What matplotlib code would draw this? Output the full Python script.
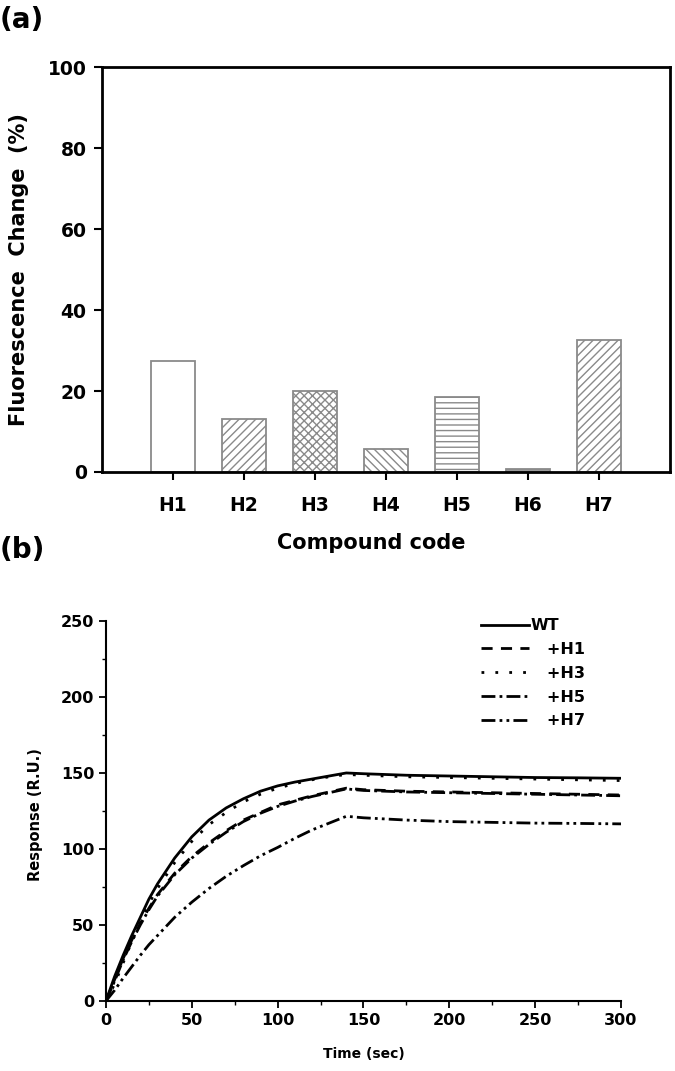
import numpy as np
import matplotlib
matplotlib.use("Agg")
import matplotlib.pyplot as plt

plt.rcParams['font.family'] = ['DejaVu Sans']
plt.rcParams['font.weight'] = 'bold'
plt.rcParams['hatch.linewidth'] = 1.0

# panel (a)
compounds = ["H1", "H2", "H3", "H4", "H5", "H6", "H7"]
fluo_change = [27.3, 13.0, 20.0, 5.8, 18.5, 0.7, 32.5]
hatches = [None, "////", "xxxx", "\\\\\\\\", "---", None, "////"]
fills = ["white", "white", "white", "white", "white", "#9a9a9a", "white"]

# panel (b)
time = [0, 5, 10, 15, 20, 25, 30, 40, 50, 60, 70, 80, 90, 100, 110, 120, 130, 140,
        150, 175, 200, 225, 250, 275, 300]
wt = [0, 16, 30, 43, 55, 67, 77, 94, 108, 119, 127, 133, 138, 141.5, 144, 146, 148, 150,
      149.5, 148.5, 148, 147.5, 147, 146.8, 146.5]
h1 = [0, 14, 28, 40, 51, 61, 70, 84, 95, 104, 112, 119, 124, 129, 132, 135, 137.5, 140,
      139, 138, 137.5, 137, 136.5, 136, 135.5]
h3 = [0, 11, 25, 39, 52, 64, 74, 91, 105, 116, 124, 131, 136, 140, 143, 145.5, 147.5, 149,
      148.5, 147.5, 147, 146.5, 146, 145.5, 145]
h5 = [0, 13, 27, 39, 50, 60, 69, 83, 94, 103, 111, 118, 123.5, 128, 131.5, 134.5, 137, 139.5,
      138.5, 137.5, 137, 136.5, 136, 135.5, 135]
h7 = [0, 7, 15, 22.5, 30, 37, 43, 55, 65, 74, 82, 89, 95.5, 101, 107, 112.5, 117, 121.5,
      120.5, 119, 118, 117.5, 117, 116.8, 116.5]

fig = plt.figure(figsize=(6.75, 10.71), dpi=100)

# ---- (a) bar chart
ax1 = fig.add_axes([0.151, 0.5593, 0.841, 0.378])
x = np.arange(1, len(compounds) + 1)
for xi, v, h, fc in zip(x, fluo_change, hatches, fills):
    ax1.bar(xi, v, width=0.62, color=fc, edgecolor="#8a8a8a", linewidth=1.3, hatch=h)
ax1.set_xlim(0, 8)
ax1.set_ylim(0, 100)
ax1.set_xticks(x)
ax1.set_xticklabels(compounds)
ax1.set_yticks(range(0, 101, 20))
for s in ax1.spines.values():
    s.set_linewidth(2)
ax1.tick_params(axis="y", direction="out", length=6, width=1.5, labelsize=13.5, pad=5)
ax1.tick_params(axis="x", direction="out", length=6, width=1.5, labelsize=13.5, pad=11)
ax1.set_ylabel("Fluorescence  Change  (%)", fontsize=15, fontweight="bold")
ax1.yaxis.set_label_coords(-0.128, 0.5)
ax1.set_xlabel("Compound code", fontsize=15, fontweight="bold")
ax1.xaxis.set_label_coords(0.474, -0.15)

# ---- (b) sensorgram
ax2 = fig.add_axes([0.157, 0.0654, 0.763, 0.3548])
ax2.plot(time, wt, color="black", lw=2.0, ls="-", label="WT")
ax2.plot(time, h1, color="black", lw=2.0, ls=(0, (4, 3)), label="   +H1")
ax2.plot(time, h3, color="black", lw=2.0, ls=(0, (1, 4)), label="   +H3")
ax2.plot(time, h5, color="black", lw=2.0, ls=(0, (5, 1.5, 1, 1.5)), label="   +H5")
ax2.plot(time, h7, color="black", lw=2.0, ls=(0, (5, 1.5, 1, 1.5, 1, 1.5)), label="   +H7")
ax2.set_xlim(0, 300)
ax2.set_ylim(0, 250)
ax2.set_xticks(range(0, 301, 50))
ax2.set_yticks(range(0, 251, 50))
ax2.set_xticks(range(25, 300, 50), minor=True)
ax2.set_yticks(range(25, 250, 50), minor=True)
ax2.spines["top"].set_visible(False)
ax2.spines["right"].set_visible(False)
for s in ["left", "bottom"]:
    ax2.spines[s].set_linewidth(1.5)
ax2.tick_params(which="major", direction="out", length=5, width=1.3, labelsize=11.5)
ax2.tick_params(which="minor", direction="out", length=3, width=1.0)
ax2.set_ylabel("Response (R.U.)", fontsize=10.5, fontweight="bold")
ax2.yaxis.set_label_coords(-0.122, 0.49)
ax2.set_xlabel("Time (sec)", fontsize=10, fontweight="bold")
ax2.xaxis.set_label_coords(0.5, -0.12)
ax2.legend(loc="upper left", bbox_to_anchor=(0.70, 1.045), frameon=False,
           handlelength=3.0, handletextpad=0.1, labelspacing=0.55,
           prop={"size": 11.5, "weight": "bold"})

fig.text(0.0, 0.981, "(a)", fontsize=20, fontweight="bold", va="center", ha="left")
fig.text(0.0, 0.486, "(b)", fontsize=20, fontweight="bold", va="center", ha="left")

fig.savefig("out.png", dpi=100)
